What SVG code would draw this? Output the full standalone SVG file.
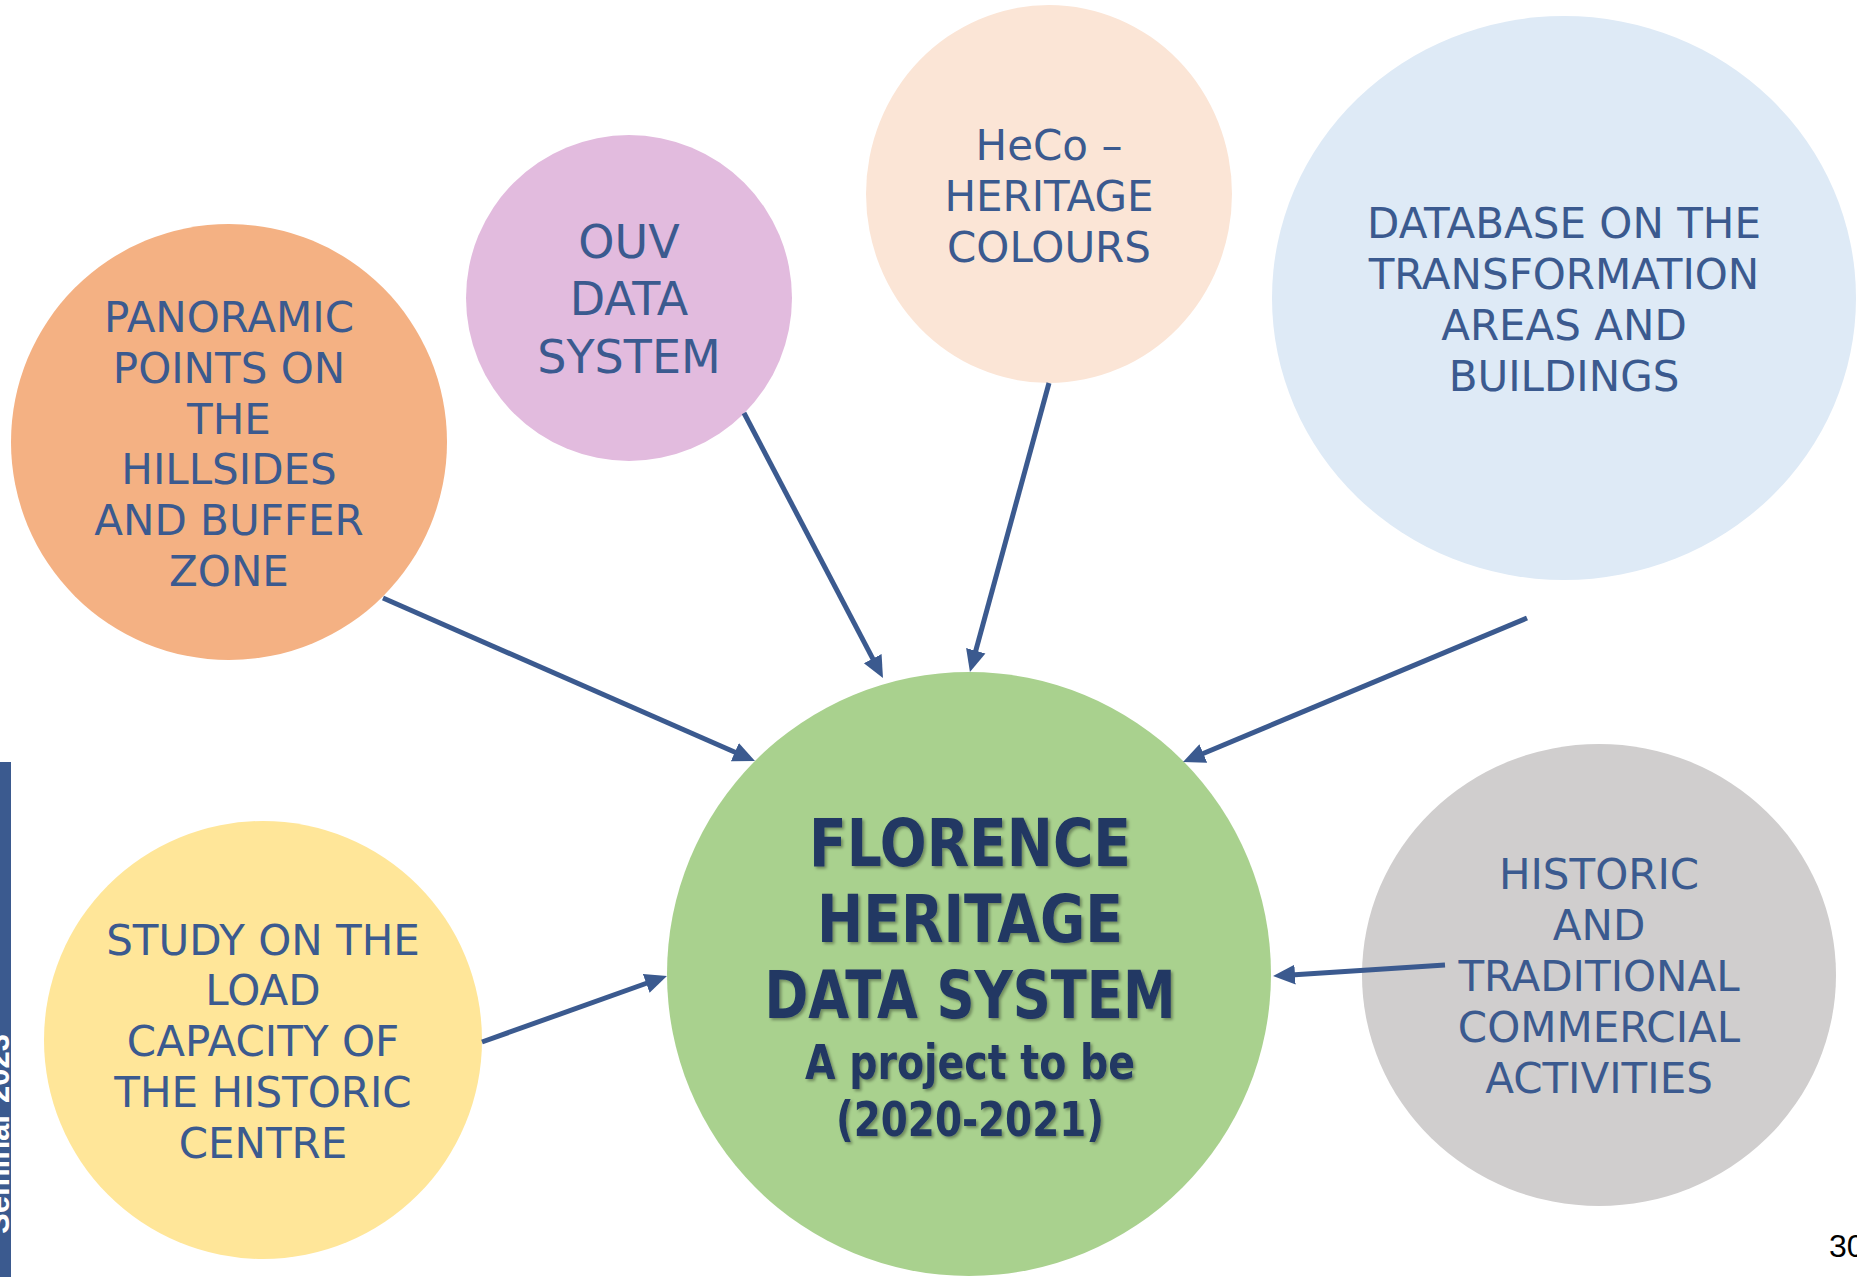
<svg xmlns="http://www.w3.org/2000/svg" width="1857" height="1277" viewBox="0 0 1857 1277">
<style>
.lbl{font-family:"DejaVu Sans","Liberation Sans",sans-serif;font-size:42px;fill:#3b5a8f;text-anchor:middle}
.big{font-size:46px}
.ctr{font-family:"DejaVu Sans","Liberation Sans",sans-serif;font-weight:bold;font-size:66px;fill:#203864;text-anchor:middle}
.sub{font-family:"DejaVu Sans","Liberation Sans",sans-serif;font-weight:bold;font-size:48px;fill:#203864;text-anchor:middle}
.conn{stroke:#3b5a8f;stroke-width:5;fill:none;marker-end:url(#ah)}
</style>
<defs>
<marker id="ah" markerUnits="userSpaceOnUse" markerWidth="24" markerHeight="22" refX="4" refY="10" orient="auto" viewBox="0 0 24 20">
<path d="M0,0 L22,10 L0,20 z" fill="#3b5a8f"/>
</marker>
<filter id="sh" x="-10%" y="-10%" width="120%" height="130%">
<feDropShadow dx="2" dy="2" stdDeviation="1.5" flood-color="#000" flood-opacity="0.35"/>
</filter>
<clipPath id="barclip"><rect x="0" y="762" width="11" height="515"/></clipPath>
</defs>
<rect width="1857" height="1277" fill="#ffffff"/>

<g id="sidebar">
<rect x="0" y="762" width="11" height="515" fill="#3b5a8f"/>
<g clip-path="url(#barclip)">
<text transform="translate(9,1134) rotate(-90)" font-family="Liberation Sans,sans-serif" font-weight="bold" font-size="31" fill="#ffffff" text-anchor="middle">Seminar 2023</text>
</g>
</g>

<g id="node-panoramic">
<circle cx="229" cy="442" r="218" fill="#f4b183"/>
<text class="lbl" x="229" y="332">PANORAMIC</text>
<text class="lbl" x="229" y="383">POINTS ON</text>
<text class="lbl" x="229" y="434">THE</text>
<text class="lbl" x="229" y="484">HILLSIDES</text>
<text class="lbl" x="229" y="535">AND BUFFER</text>
<text class="lbl" x="229" y="586">ZONE</text>
</g>

<g id="node-ouv">
<circle cx="629" cy="298" r="163" fill="#e2bbde"/>
<text class="lbl big" x="629" y="258">OUV</text>
<text class="lbl big" x="629" y="315">DATA</text>
<text class="lbl big" x="629" y="373">SYSTEM</text>
</g>

<g id="node-heco">
<ellipse cx="1049" cy="194" rx="183" ry="189" fill="#fbe5d6"/>
<text class="lbl" x="1049" y="160">HeCo –</text>
<text class="lbl" x="1049" y="211">HERITAGE</text>
<text class="lbl" x="1049" y="262">COLOURS</text>
</g>

<g id="node-database">
<ellipse cx="1564" cy="298" rx="292" ry="282" fill="#deeaf6"/>
<text class="lbl" x="1564" y="238">DATABASE ON THE</text>
<text class="lbl" x="1564" y="289">TRANSFORMATION</text>
<text class="lbl" x="1564" y="340">AREAS AND</text>
<text class="lbl" x="1564" y="391">BUILDINGS</text>
</g>

<g id="node-study">
<circle cx="263" cy="1040" r="219" fill="#ffe699"/>
<text class="lbl" x="263" y="955">STUDY ON THE</text>
<text class="lbl" x="263" y="1005">LOAD</text>
<text class="lbl" x="263" y="1056">CAPACITY OF</text>
<text class="lbl" x="263" y="1107">THE HISTORIC</text>
<text class="lbl" x="263" y="1158">CENTRE</text>
</g>

<g id="node-historic">
<ellipse cx="1599" cy="975" rx="237" ry="231" fill="#d0cece"/>
<text class="lbl" x="1599" y="889">HISTORIC</text>
<text class="lbl" x="1599" y="940">AND</text>
<text class="lbl" x="1599" y="991">TRADITIONAL</text>
<text class="lbl" x="1599" y="1042">COMMERCIAL</text>
<text class="lbl" x="1599" y="1093">ACTIVITIES</text>
</g>

<g id="node-center">
<circle cx="969" cy="974" r="302" fill="#a9d18e"/>
<g filter="url(#sh)">
<text class="ctr" x="970" y="866" textLength="322" lengthAdjust="spacingAndGlyphs">FLORENCE</text>
<text class="ctr" x="970" y="942" textLength="306" lengthAdjust="spacingAndGlyphs">HERITAGE</text>
<text class="ctr" x="970" y="1018" textLength="411" lengthAdjust="spacingAndGlyphs">DATA SYSTEM</text>
<text class="sub" x="970" y="1079" textLength="330" lengthAdjust="spacingAndGlyphs">A project to be</text>
<text class="sub" x="970" y="1136" textLength="268" lengthAdjust="spacingAndGlyphs">(2020-2021)</text>
</g>
</g>

<g id="connectors">
<line class="conn" x1="383" y1="598" x2="738.5" y2="753.8"/>
<line class="conn" x1="744" y1="413" x2="874.6" y2="662.1"/>
<line class="conn" x1="1049" y1="383" x2="974.7" y2="654.6"/>
<line class="conn" x1="1527" y1="618" x2="1199.6" y2="755"/>
<line class="conn" x1="482" y1="1042" x2="650" y2="982"/>
<line class="conn" x1="1445" y1="965" x2="1291" y2="974.9"/>
</g>

<g id="page-number">
<text x="1829" y="1257" font-family="Liberation Sans,sans-serif" font-size="32" fill="#000000">30</text>
</g>
</svg>
